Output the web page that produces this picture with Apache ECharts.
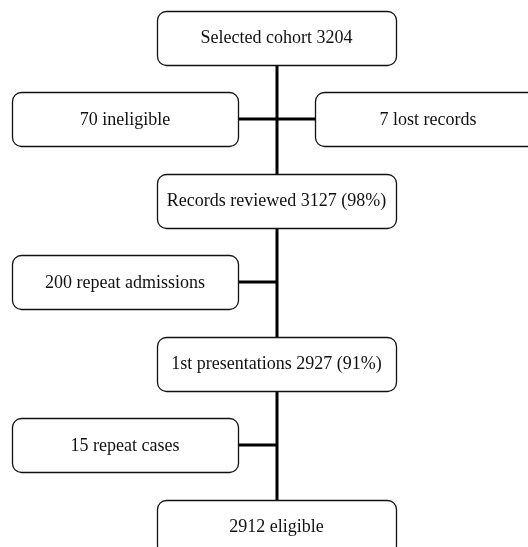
<!DOCTYPE html>
<html>
<head>
<meta charset="utf-8">
<script src="https://cdn.jsdelivr.net/npm/echarts@6/dist/echarts.min.js"></script>
<style>html,body{margin:0;padding:0;background:#fff}#c{width:528px;height:547px}</style>
</head>
<body>
<div id="c"></div>
<script>
// Flow stages (main column), top to bottom
const mainLabels = ['Selected cohort 3204', 'Records reviewed 3127 (98%)', '1st presentations 2927 (91%)', '2912 eligible'];
const mainRows = [0, 2, 4, 6];
// Exclusions branching off the main column
const exclusionLabels = ['70 ineligible', '7 lost records', '200 repeat admissions', '15 repeat cases'];
const exclusionSide = [-1, 1, -1, -1];
const exclusionRows = [1, 1, 3, 5];

const boxData = [];
mainLabels.forEach((l, i) => boxData.push([0, mainRows[i], l]));
exclusionLabels.forEach((l, i) => boxData.push([exclusionSide[i], exclusionRows[i], l]));

const connData = [[0, mainRows[0], 0, mainRows[mainRows.length - 1], 3]];
exclusionLabels.forEach((l, i) => connData.push([exclusionSide[i], exclusionRows[i], 0, exclusionRows[i], 3]));

const chart = echarts.init(document.getElementById('c'));
chart.setOption({
  animation: false,
  backgroundColor: '#fff',
  grid: { left: 125, right: 100, top: 37.5, bottom: 20.5 },
  xAxis: { type: 'value', min: -1, max: 1, show: false },
  yAxis: { type: 'value', min: 0, max: 6, inverse: true, show: false },
  series: [
    {
      type: 'custom',
      clip: false,
      z: 1,
      data: connData,
      renderItem: function (params, api) {
        const a = api.coord([api.value(0), api.value(1)]);
        const b = api.coord([api.value(2), api.value(3)]);
        return {
          type: 'line',
          shape: { x1: Math.round(a[0]), y1: Math.round(a[1]), x2: Math.round(b[0]), y2: Math.round(b[1]) },
          style: { stroke: '#000', lineWidth: api.value(4) }
        };
      }
    },
    {
      type: 'custom',
      clip: false,
      z: 2,
      data: boxData,
      renderItem: function (params, api) {
        const col = api.value(0);
        const c = api.coord([col, api.value(1)]);
        const w = col === 0 ? 239 : 226;
        const h = 54;
        return {
          type: 'group',
          children: [
            {
              type: 'rect',
              shape: { x: Math.round(c[0] - w / 2) + 0.5, y: Math.round(c[1] - h / 2) + 0.5, width: w, height: h, r: 9 },
              style: { fill: '#fff', stroke: '#111', lineWidth: 1.3 }
            },
            {
              type: 'text',
              style: {
                x: c[0], y: c[1] + 1,
                text: api.value(2),
                fill: '#111',
                font: '18px "Liberation Serif", "Times New Roman", serif',
                align: 'center', verticalAlign: 'middle'
              }
            }
          ]
        };
      }
    }
  ]
});
</script>
</body>
</html>
